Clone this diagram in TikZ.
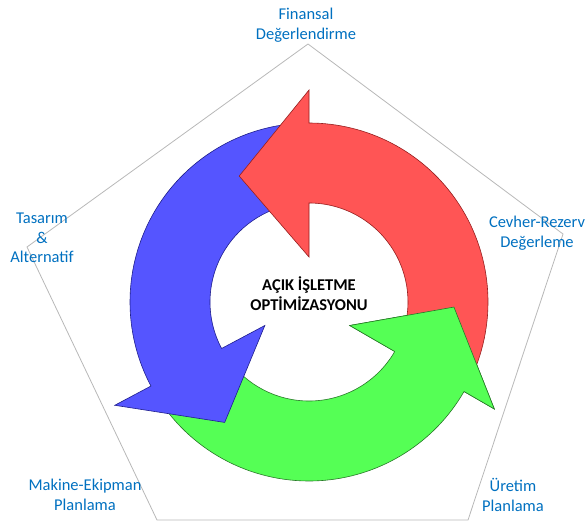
\documentclass[tikz,border=0pt]{standalone}
\usepackage{fontspec}
\setmainfont{Carlito}
\usepackage{tikz}

\definecolor{labelblue}{RGB}{0,112,192}
\definecolor{arrowred}{RGB}{255,85,85}
\definecolor{arrowblue}{RGB}{85,85,255}
\definecolor{arrowgreen}{RGB}{85,255,85}
\definecolor{redline}{RGB}{150,30,30}
\definecolor{blueline}{RGB}{30,30,140}
\definecolor{greenline}{RGB}{40,120,40}

\begin{document}
\begin{tikzpicture}[x=1pt, y=-1pt,
        lbl/.style={align=center, text=labelblue, inner sep=0pt, font=\fontsize{16.5}{19.5}\selectfont},
        ring/.style={line width=0.6pt}]
        \useasboundingbox (0,0) rectangle (585,521);

        % Pentagon
        \coordinate (P1) at (308,44);
        \coordinate (P2) at (563,234);
        \coordinate (P3) at (468,520);
        \coordinate (P4) at (157,520);
        \coordinate (P5) at (27,247);
        \draw[black!28, line width=0.8pt] (P1) -- (P2) -- (P3) -- (P4) -- (P5) -- cycle;

        % Arrows (green, blue, red, then green head again on top)
        \begin{scope}[shift={(309,302)}]
        \draw[ring, fill=arrowgreen, draw=greenline] (215:179pt) arc[start angle=215, end angle=330, radius=179pt] -- (330:214pt) -- (358:145pt) -- (330:47pt) -- (330:99pt) arc[start angle=330, end angle=215, radius=99pt] -- cycle;
        \draw[ring, fill=arrowblue, draw=blueline] (95:179pt) arc[start angle=95, end angle=208, radius=179pt] -- (208:220pt) -- (235:147pt) -- (208:50pt) -- (208:99pt) arc[start angle=208, end angle=95, radius=99pt] -- cycle;
        \draw[ring, fill=arrowred, draw=redline] (-25:179pt) arc[start angle=-25, end angle=90, radius=179pt] -- (90:212pt) -- (119:144pt) -- (90:45pt) -- (90:99pt) arc[start angle=90, end angle=-25, radius=99pt] -- cycle;
        \fill[arrowgreen] (330:214pt) -- (358:145pt) -- (330:47pt) -- cycle;
        \draw[ring, greenline] (330:179pt) -- (330:214pt) -- (358:145pt) -- (330:47pt) -- (330:99pt);
        \end{scope}

        % Title
        \node at (309,294) [align=center, inner sep=0pt, font=\bfseries\fontsize{16.5}{20}\selectfont] (title) {AÇIK İŞLETME\\OPTİMİZASYONU};

        % Labels at the corners
        \node at (306,25) [lbl] (fin) {Finansal\\Değerlendirme};
        \node at (537,233) [lbl] (cevher) {Cevher-Rezerv\\Değerleme};
        \node at (513,495) [lbl] (uretim) {Üretim\\Planlama};
        \node at (85,495) [lbl] (makine) {Makine-Ekipman\\Planlama};
        \node at (42,238) [lbl] (tasarim) {Tasarım\\\&\\Alternatif};

\end{tikzpicture}
\end{document}
